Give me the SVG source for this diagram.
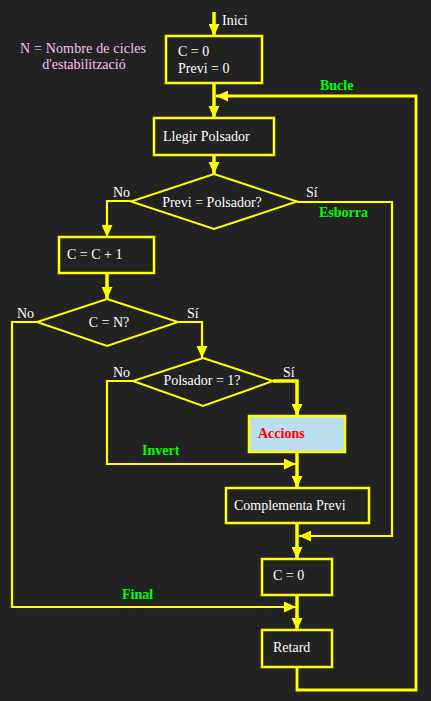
<svg xmlns="http://www.w3.org/2000/svg" width="431" height="701" viewBox="0 0 431 701">
<style>
.box{fill:none;stroke:#ffff00;stroke-width:2.5}
.act{fill:#b9dff0;stroke:#ffff00;stroke-width:2.5}
.dia{fill:none;stroke:#ffff00;stroke-width:2}
.t{font-family:"Liberation Serif","Times New Roman",serif;font-size:14px;fill:#ffffff}
.g{font-family:"Liberation Serif","Times New Roman",serif;font-size:14px;font-weight:bold;fill:#00ff00}
.r{font-family:"Liberation Serif","Times New Roman",serif;font-size:14px;font-weight:bold;fill:#ff0000}
.p{font-family:"Liberation Serif","Times New Roman",serif;font-size:14px;fill:#ffc0fa}
.main{fill:none;stroke:#ffff00;stroke-width:3.5}
.br{fill:none;stroke:#ffff00;stroke-width:2.2}
.lp{fill:none;stroke:#ffff00;stroke-width:2.8}
</style>
<defs>
<marker id="ah" viewBox="0 0 12 11" refX="12" refY="5.5" markerWidth="12" markerHeight="11" markerUnits="userSpaceOnUse" orient="auto">
<path d="M0,0 L12,5.5 L0,11 Z" fill="#ffff00"/>
</marker>
</defs>
<rect width="431" height="701" fill="#222222"/>
<g id="connectors">
<path class="main" d="M214,12 V36" marker-end="url(#ah)"/>
<path class="main" d="M214,83 V118" marker-end="url(#ah)"/>
<path class="lp" d="M297,667 V690 H416 V96 H216" marker-end="url(#ah)"/>
<path class="main" d="M214,155 V174" marker-end="url(#ah)"/>
<path class="br" d="M131,201 H107 V237" marker-end="url(#ah)"/>
<path class="br" d="M297,202 H392 V536 H299" marker-end="url(#ah)"/>
<path class="main" d="M107,273 V299" marker-end="url(#ah)"/>
<path class="br" d="M37,322 H12 V607 H296" marker-end="url(#ah)"/>
<path class="br" d="M178,322 H202 V358" marker-end="url(#ah)"/>
<path class="br" d="M133,381 H107 V464 H296" marker-end="url(#ah)"/>
<path class="main" d="M273,381 H297 V416" marker-end="url(#ah)"/>
<path class="main" d="M297,452 V488" marker-end="url(#ah)"/>
<path class="main" d="M297,523 V559" marker-end="url(#ah)"/>
<path class="main" d="M297,595 V630" marker-end="url(#ah)"/>
</g>
<g id="labels">
<text class="t" x="222" y="25">Inici</text>
<text class="p" x="20" y="53" textLength="126">N = Nombre de cicles</text>
<text class="p" x="84" y="69" text-anchor="middle">d'estabilització</text>
<text class="g" x="320" y="90">Bucle</text>
<text class="t" x="113" y="197">No</text>
<text class="t" x="306" y="197">Sí</text>
<text class="g" x="319" y="217">Esborra</text>
<text class="t" x="17" y="318">No</text>
<text class="t" x="187" y="318">Sí</text>
<text class="t" x="113" y="377">No</text>
<text class="t" x="283" y="377">Sí</text>
<text class="g" x="142" y="455">Invert</text>
<text class="g" x="122" y="599">Final</text>
</g>
<g id="init">
<rect class="box" x="166" y="36" width="96" height="47"/>
<text class="t" x="178" y="56">C = 0</text>
<text class="t" x="178" y="73">Previ = 0</text>
</g>
<g id="llegir">
<rect class="box" x="154" y="118" width="120" height="37"/>
<text class="t" x="163" y="141">Llegir Polsador</text>
</g>
<g id="d1">
<polygon class="dia" points="214,174 297,201.5 214,229 131,201.5"/>
<text class="t" x="212" y="207" text-anchor="middle">Previ = Polsador?</text>
</g>
<g id="inc">
<rect class="box" x="59" y="237" width="95" height="36"/>
<text class="t" x="67" y="259">C = C + 1</text>
</g>
<g id="d2">
<polygon class="dia" points="107,299 178,322 107,346 37,322"/>
<text class="t" x="109" y="327" text-anchor="middle">C = N?</text>
</g>
<g id="d3">
<polygon class="dia" points="203,358 273,381 203,406 133,381"/>
<text class="t" x="202" y="385" text-anchor="middle">Polsador = 1?</text>
</g>
<g id="accions">
<rect class="act" x="249" y="416" width="96" height="36"/>
<text class="r" x="258" y="438">Accions</text>
</g>
<g id="comp">
<rect class="box" x="226" y="488" width="143" height="35"/>
<text class="t" x="234" y="510">Complementa Previ</text>
</g>
<g id="c0">
<rect class="box" x="262" y="559" width="70" height="36"/>
<text class="t" x="273" y="580">C = 0</text>
</g>
<g id="retard">
<rect class="box" x="262" y="630" width="70" height="37"/>
<text class="t" x="273" y="652">Retard</text>
</g>
</svg>
